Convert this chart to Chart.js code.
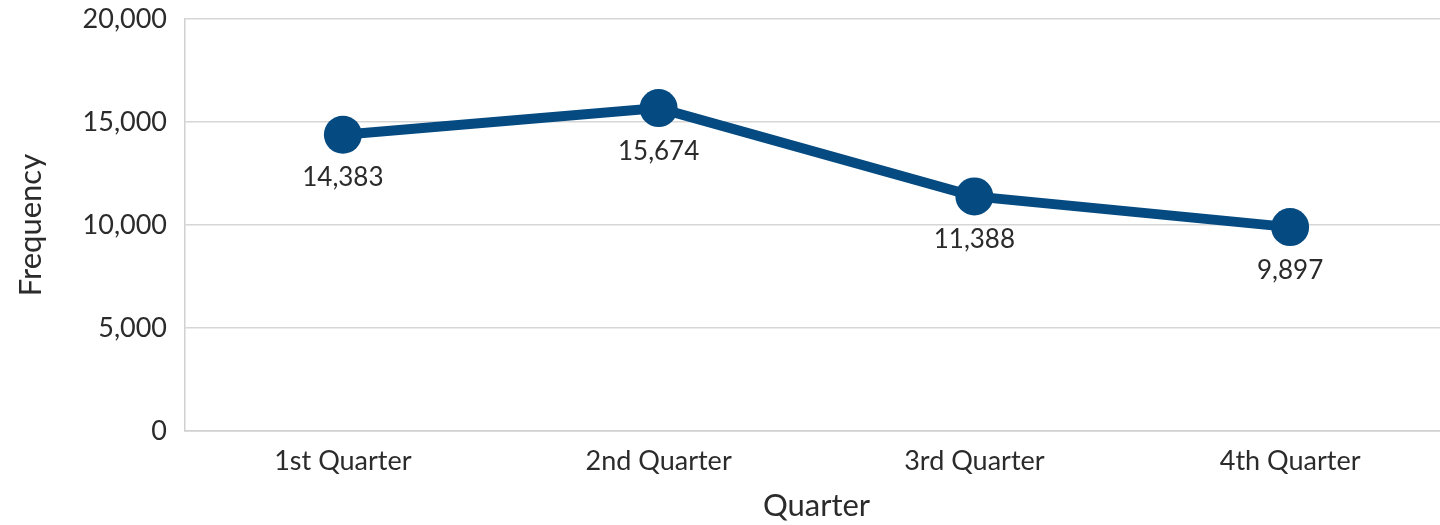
<!DOCTYPE html>
<html>
<head>
<meta charset="utf-8">
<script src="https://cdn.jsdelivr.net/npm/chart.js@4"></script>
<style>
  html,body{margin:0;padding:0;background:#fff;overflow:hidden;}
  /* plot area runs slightly past the right edge of the window, as in the original */
  #wrap{width:1448px;height:525px;position:relative;}
</style>
</head>
<body>
<div id="wrap"><canvas id="chart"></canvas></div>
<script>
// --- Data ---
const quarters = ['1st Quarter', '2nd Quarter', '3rd Quarter', '4th Quarter'];
const frequency = [14383, 15674, 11388, 9897];
const yTicks = [0, 5000, 10000, 15000, 20000];

const lineColor = '#054a80';
const textColor = '#2b2b2b';
const fontFamily = 'Lato, "Open Sans", sans-serif';

// --- Value labels under each point ---
const valueLabels = {
  id: 'valueLabels',
  afterDatasetsDraw(chart){
    const ctx = chart.ctx;
    const meta = chart.getDatasetMeta(0);
    ctx.save();
    ctx.font = '26px ' + fontFamily;
    ctx.fillStyle = textColor;
    ctx.textAlign = 'center';
    ctx.textBaseline = 'middle';
    meta.data.forEach((pt,i)=>{
      ctx.fillText(frequency[i].toLocaleString('en-US'), pt.x, pt.y + 43);
    });
    ctx.restore();
  }
};

const ctx = document.getElementById('chart').getContext('2d');
new Chart(ctx,{
  type:'line',
  data:{
    labels: quarters,
    datasets:[{
      label:'Frequency',
      data: frequency,
      borderColor: lineColor,
      backgroundColor: lineColor,
      borderWidth: 10,
      pointRadius: 19,
      pointHoverRadius: 19,
      pointBorderWidth: 0,
      tension: 0
    }]
  },
  options:{
    responsive:true,
    maintainAspectRatio:false,
    animation:false,
    layout:{ autoPadding:false, padding:{top:19, right:0, bottom:0, left:0} },
    plugins:{ legend:{display:false}, tooltip:{enabled:false} },
    scales:{
      x:{
        offset:true,
        grid:{display:false, drawTicks:false},
        border:{display:true, color:'#d0d0d0', width:1.5},
        ticks:{color:textColor, font:{family:fontFamily, size:27}, padding:14},
        title:{display:true, text:'Quarter', color:textColor, font:{family:fontFamily, size:31}, padding:{top:2, bottom:0}},
        afterFit(scale){ scale.height = 94; }
      },
      y:{
        min:0, max:20000,
        afterBuildTicks(scale){ scale.ticks = yTicks.map(v=>({value:v})); },
        grid:{color:'#d6d6d6', lineWidth:1.5, drawTicks:false},
        border:{display:true, color:'#d0d0d0', width:1.5},
        ticks:{
          color:textColor, font:{family:fontFamily, size:27}, padding:18,
          callback:v=>v.toLocaleString('en-US')
        },
        title:{display:true, text:'Frequency', color:textColor, font:{family:fontFamily, size:31}, padding:{top:12, bottom:10}},
        afterFit(scale){
          scale.width = 185;
          // keep tick padding from pushing the plot area down
          scale.paddingTop = 0;
          scale.paddingBottom = 0;
        }
      }
    }
  },
  plugins:[valueLabels]
});
</script>
</body>
</html>
